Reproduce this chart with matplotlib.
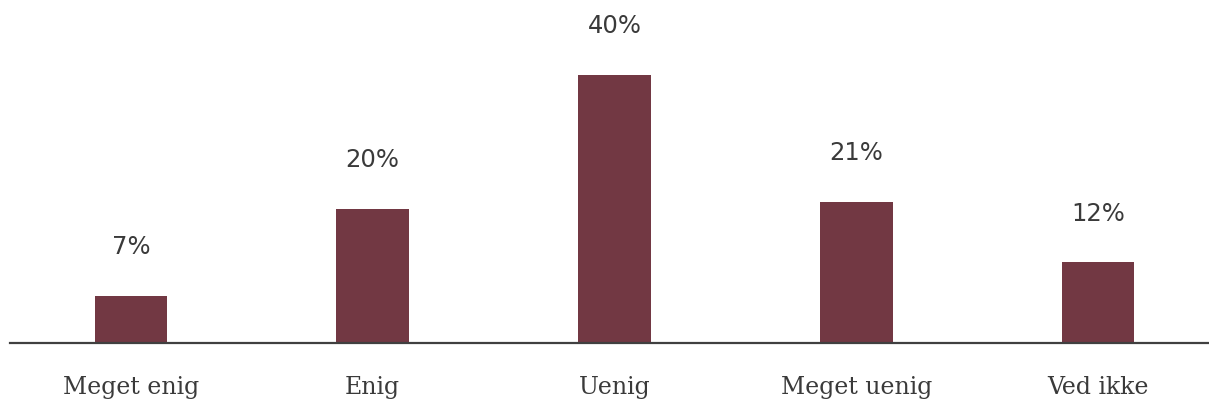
import matplotlib.pyplot as plt

# Data
categories = ['Meget enig', 'Enig', 'Uenig', 'Meget uenig', 'Ved ikke']
values = [7, 20, 40, 21, 12]
labels = ['7%', '20%', '40%', '21%', '12%']

bar_color = '#723843'
text_color = '#3a3a3a'

fig = plt.figure(figsize=(12.09, 4.05), dpi=100)
ax = fig.add_axes([10 / 1209, 62 / 405, 1209 / 1209, 302 / 405])

x = range(len(categories))
ax.bar(x, values, width=0.30, color=bar_color, zorder=2)

for xi, v, lab in zip(x, values, labels):
    ax.annotate(lab, (xi, v), xytext=(0, 35), textcoords='offset points',
                ha='center', va='center', fontsize=17.5, color=text_color,
                family='DejaVu Sans', annotation_clip=False)

ax.set_xlim(-0.5, 4.5)
ax.set_ylim(0, 45)
ax.set_xticks(list(x))
ax.set_xticklabels(categories, family='DejaVu Serif', fontsize=17, color=text_color)
ax.tick_params(axis='x', length=0, pad=24)
ax.set_yticks([])

for side in ['top', 'right', 'left']:
    ax.spines[side].set_visible(False)
ax.spines['bottom'].set_color('#404040')
ax.spines['bottom'].set_linewidth(1.6)
ax.spines['bottom'].set_zorder(3)

fig.savefig('out.png', dpi=100)
